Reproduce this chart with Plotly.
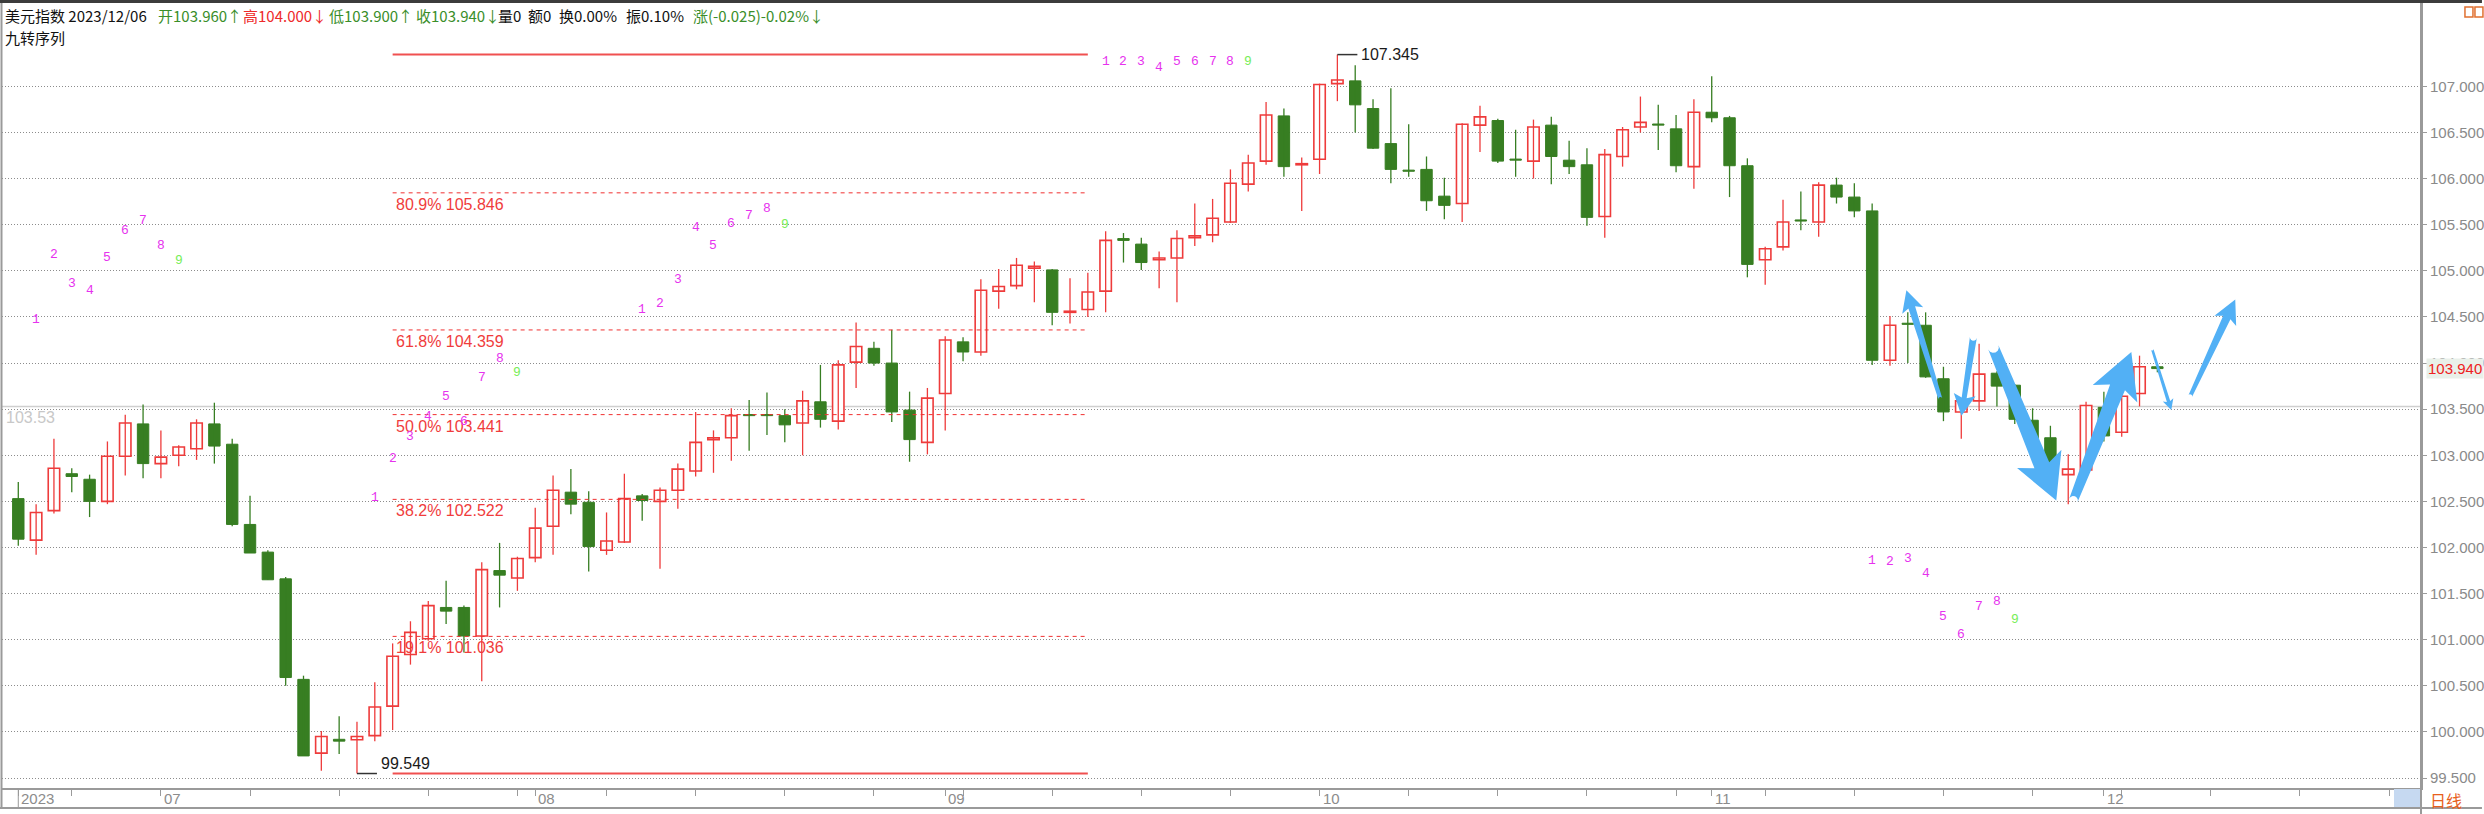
import math
import pandas as pd
import plotly.graph_objects as go

# ---------------- data ----------------
dates = pd.bdate_range("2023-06-21", "2023-12-06")

opens = [102.53, 102.08, 102.40, 102.80, 102.74, 102.50, 102.99, 103.34, 102.91, 103.00,
         103.07, 103.34, 103.12, 102.25, 101.95, 101.66, 100.57, 99.77, 99.92, 99.915,
         99.96, 100.28, 100.84, 101.01, 101.35, 101.35, 101.04, 101.75, 101.67, 101.89,
         102.23, 102.60, 102.49, 101.97, 102.06, 102.56, 102.50, 102.62, 102.83, 103.17,
         103.19, 103.44, 103.44, 103.43, 103.35, 103.58, 103.37, 104.01, 104.16, 104.00,
         103.49, 103.14, 103.67, 104.23, 104.12, 104.78, 104.84, 105.03, 105.01, 104.55,
         104.58, 104.78, 105.35, 105.29, 105.12, 105.14, 105.36, 105.39, 105.53, 105.94,
         106.19, 106.68, 106.15, 106.21, 107.03, 107.06, 106.76, 106.38, 106.09, 106.10,
         105.81, 105.73, 106.58, 106.63, 106.21, 106.19, 106.58, 106.20, 106.15, 105.59,
         106.24, 106.56, 106.59, 106.54, 106.13, 106.72, 106.66, 106.14, 105.12, 105.26,
         105.55, 105.53, 105.93, 105.80, 105.65, 104.03, 104.43, 104.41, 103.83, 103.47,
         103.59, 103.89, 103.76, 103.38, 103.19, 102.79, 102.84, 103.52, 103.25, 103.67,
         103.96]
highs = [102.71, 102.47, 103.18, 102.86, 102.79, 103.15, 103.44, 103.55, 103.27, 103.11,
         103.39, 103.57, 103.18, 102.56, 101.97, 101.68, 100.61, 100.01, 100.17, 100.11,
         100.54, 100.96, 101.20, 101.42, 101.64, 101.37, 101.84, 102.05, 101.90, 102.43,
         102.78, 102.85, 102.61, 102.38, 102.80, 102.58, 102.65, 102.91, 103.47, 103.27,
         103.51, 103.60, 103.68, 103.50, 103.70, 103.98, 104.03, 104.44, 104.23, 104.36,
         103.69, 103.73, 104.29, 104.28, 104.91, 105.02, 105.14, 105.10, 105.02, 104.92,
         104.98, 105.43, 105.41, 105.36, 105.21, 105.44, 105.73, 105.78, 106.10, 106.26,
         106.83, 106.76, 106.23, 107.03, 107.345, 107.23, 106.86, 106.98, 106.59, 106.24,
         106.01, 106.60, 106.79, 106.65, 106.53, 106.64, 106.67, 106.41, 106.33, 106.32,
         106.56, 106.89, 106.80, 106.69, 106.86, 107.11, 106.68, 106.22, 105.26, 105.77,
         105.86, 105.96, 106.01, 105.95, 105.73, 104.51, 104.55, 104.55, 103.96, 103.62,
         104.21, 103.91, 103.77, 103.51, 103.32, 103.01, 103.58, 103.69, 103.70, 104.08,
         104.00]
lows = [102.02, 101.92, 102.37, 102.60, 102.33, 102.47, 102.78, 102.75, 102.75, 102.88,
        102.95, 102.91, 102.23, 101.94, 101.65, 100.50, 99.74, 99.58, 99.76, 99.549,
        99.90, 100.02, 100.73, 100.99, 101.17, 100.86, 100.55, 101.35, 101.53, 101.84,
        101.92, 102.36, 101.74, 101.92, 102.05, 102.29, 101.77, 102.42, 102.77, 102.81,
        102.94, 103.05, 103.22, 103.14, 103.00, 103.30, 103.28, 103.73, 103.97, 103.36,
        102.93, 103.01, 103.27, 104.02, 104.08, 104.59, 104.80, 104.66, 104.41, 104.43,
        104.50, 104.55, 105.09, 105.01, 104.81, 104.66, 105.27, 105.31, 105.52, 105.86,
        106.15, 106.02, 105.65, 106.05, 106.84, 106.50, 106.32, 105.95, 106.02, 105.65,
        105.56, 105.53, 106.29, 106.17, 106.02, 106.00, 105.94, 106.05, 105.49, 105.36,
        106.13, 106.50, 106.31, 106.07, 105.89, 106.61, 105.80, 104.93, 104.85, 105.22,
        105.44, 105.37, 105.73, 105.58, 103.98, 103.97, 104.00, 103.84, 103.37, 103.18,
        103.48, 103.53, 103.34, 103.05, 102.88, 102.47, 102.80, 103.15, 103.20, 103.53,
        103.90]
closes = [102.09, 102.38, 102.86, 102.77, 102.50, 102.99, 103.35, 102.91, 102.98, 103.09,
          103.35, 103.10, 102.25, 101.94, 101.65, 100.59, 99.74, 99.95, 99.90, 99.95,
          100.27, 100.82, 101.08, 101.37, 101.31, 101.04, 101.76, 101.70, 101.88, 102.21,
          102.62, 102.47, 102.01, 102.07, 102.53, 102.51, 102.62, 102.85, 103.14, 103.19,
          103.43, 103.43, 103.43, 103.33, 103.59, 103.39, 103.98, 104.18, 104.00, 103.47,
          103.17, 103.62, 104.25, 104.12, 104.79, 104.83, 105.06, 105.05, 104.55, 104.56,
          104.77, 105.33, 105.33, 105.09, 105.14, 105.35, 105.38, 105.57, 105.95, 106.17,
          106.69, 106.13, 106.16, 107.02, 107.07, 106.80, 106.33, 106.10, 106.08, 105.76,
          105.71, 106.59, 106.67, 106.19, 106.20, 106.56, 106.24, 106.13, 105.58, 106.26,
          106.53, 106.61, 106.58, 106.14, 106.72, 106.66, 106.14, 105.07, 105.24, 105.53,
          105.54, 105.93, 105.80, 105.65, 104.03, 104.41, 104.42, 103.85, 103.47, 103.59,
          103.88, 103.75, 103.39, 103.12, 102.91, 102.85, 103.54, 103.21, 103.64, 103.96,
          103.94]

y_ticks = [99.5, 100.0, 100.5, 101.0, 101.5, 102.0, 102.5, 103.0, 103.5,
           104.0, 104.5, 105.0, 105.5, 106.0, 106.5, 107.0]

fib_pcts = ["80.9%", "61.8%", "50.0%", "38.2%", "19.1%"]
fib_vals = [105.846, 104.359, 103.441, 102.522, 101.036]
fib_x = [21, 60]

ref_level = 103.53
last_price = 103.94

nine_up_starts = [1, 20, 35, 61]
nine_down_starts = [104]

arrow_tails = [(107.83, 103.61), (109.68, 104.28), (110.80, 104.17),
               (115.29, 102.51), (119.71, 104.15), (121.84, 103.64)]
arrow_tips = [(105.92, 104.79), (109.01, 103.43), (114.33, 102.51),
              (118.54, 104.12), (120.78, 103.49), (124.37, 104.69)]
# tail width, shaft width, head width, head length (pixels)
arrow_sizes = [(4, 7, 22, 18), (7, 5, 22, 18), (11, 16, 48, 38),
               (9, 16, 48, 38), (2.5, 3.5, 11, 9), (4, 8, 24, 20)]

title_parts = [("美元指数 2023/12/06", "#111111", 3),
               ("开103.960↑", "#3a8e2a", 156),
               ("高104.000↓", "#ee2a2a", 241),
               ("低103.900↑", "#3a8e2a", 327),
               ("收103.940↓", "#3a8e2a", 414),
               ("量0", "#111111", 496),
               ("额0", "#111111", 526),
               ("换0.00%", "#111111", 557),
               ("振0.10%", "#111111", 625),
               ("涨(-0.025)-0.02%↓", "#3a8e2a", 692)]

# ---------------- geometry ----------------
W, H = 2484, 814
ML, MR, MT, MB = 2, 61, 0, 26
PW = W - ML - MR
PH = H - MT - MB
X0, X1 = -0.914, 134.79
Y0, Y1 = 99.392, 107.937
SX = PW / (X1 - X0)
SY = PH / (Y1 - Y0)


def pxx(px):
    return (px - ML) / PW


def pxy(py):
    return 1 - (py - MT) / PH


RED = "#ee3b3b"
GREEN = "#377e22"
GRID = "#8c8c8c"
AX = "#9a9a9a"
MAG = "#e632ee"
LGREEN = "#78ee58"

n = len(dates)
xs = list(range(n))
up = [k for k in xs if closes[k] >= opens[k]]
dn = [k for k in xs if closes[k] < opens[k]]

fig = go.Figure()

# wicks
for idx, col in ((up, RED), (dn, GREEN)):
    wx, wy = [], []
    for k in idx:
        wx += [k, k, None]
        wy += [lows[k], highs[k], None]
    fig.add_trace(go.Scatter(x=wx, y=wy, mode="lines", line=dict(color=col, width=1.3),
                             hoverinfo="skip", showlegend=False))

# bodies
fig.add_trace(go.Bar(x=up, base=[min(opens[k], closes[k]) for k in up],
                     y=[max(abs(closes[k] - opens[k]), 0.012) for k in up],
                     width=0.64, marker=dict(color="white", line=dict(color=RED, width=1.6)),
                     hoverinfo="skip", showlegend=False))
fig.add_trace(go.Bar(x=dn, base=[min(opens[k], closes[k]) for k in dn],
                     y=[max(abs(closes[k] - opens[k]), 0.012) for k in dn],
                     width=0.64, marker=dict(color=GREEN, line=dict(color=GREEN, width=1)),
                     hoverinfo="skip", showlegend=False))

shapes = []
ann = []

# reference level line
shapes.append(dict(type="line", xref="paper", yref="y", x0=0, x1=1, y0=ref_level, y1=ref_level,
                   line=dict(color="#cfcfcf", width=1.5), layer="below"))
ann.append(dict(text=f"{ref_level:.2f}", xref="paper", yref="y", x=pxx(4), y=ref_level,
                xanchor="left", yanchor="top", showarrow=False, yshift=-1,
                font=dict(family="Liberation Sans", size=16, color="#c8c8c8")))

# fibonacci lines
hi_k = max(xs, key=lambda k: highs[k])
lo_k = min(xs, key=lambda k: lows[k])
for yv in (highs[hi_k], lows[lo_k]):
    shapes.append(dict(type="line", xref="x", yref="y", x0=fib_x[0], x1=fib_x[1], y0=yv, y1=yv,
                       line=dict(color="#f05050", width=2)))
for pct, v in zip(fib_pcts, fib_vals):
    shapes.append(dict(type="line", xref="x", yref="y", x0=fib_x[0], x1=fib_x[1], y0=v, y1=v,
                       line=dict(color="#f03030", width=1, dash="4px,4px")))
    ann.append(dict(text=f"{pct} {v:.3f}", xref="x", yref="y", x=fib_x[0] + 0.1, y=v,
                    xanchor="left", yanchor="top", showarrow=False, yshift=-1,
                    font=dict(family="Liberation Sans", size=16, color="#f03c3c")))

# high / low markers
for k, v, ya in ((hi_k, highs[hi_k], "middle"), (lo_k, lows[lo_k], "bottom")):
    shapes.append(dict(type="line", xref="x", yref="y", x0=k, x1=k + 20 / SX, y0=v, y1=v,
                       line=dict(color="#333333", width=1.5)))
    ann.append(dict(text=f"{v:.3f}", xref="x", yref="y", x=k + 22 / SX, y=v,
                    xanchor="left", yanchor=ya, showarrow=False,
                    font=dict(family="Liberation Sans", size=16, color="#1a1a1a")))

# nine-turn sequence labels
for s in nine_up_starts:
    for i in range(9):
        k = s + i
        ann.append(dict(text=str(i + 1), xref="x", yref="y", x=k, y=min(highs[k] + 2.0, 107.27),
                        showarrow=False, xanchor="center", yanchor="middle",
                        font=dict(family="Liberation Mono", size=13, color=LGREEN if i == 8 else MAG)))
for s in nine_down_starts:
    for i in range(9):
        k = s + i
        ann.append(dict(text=str(i + 1), xref="x", yref="y", x=k, y=lows[k] - 2.12,
                        showarrow=False, xanchor="center", yanchor="middle",
                        font=dict(family="Liberation Mono", size=13, color=LGREEN if i == 8 else MAG)))


# blue arrows
def arrow_path(t, p, wt, ws, wh, lh):
    tx, ty = (t[0] - X0) * SX, (Y1 - t[1]) * SY
    qx, qy = (p[0] - X0) * SX, (Y1 - p[1]) * SY
    L = math.hypot(qx - tx, qy - ty)
    ux, uy = (qx - tx) / L, (qy - ty) / L
    nx, ny = -uy, ux
    bx, by = qx - ux * lh, qy - uy * lh
    bk = 0.18 * lh
    pts = []
    for j in range(7):
        th = math.pi * j / 6
        cx = nx * math.cos(th) - ux * math.sin(th)
        cy = ny * math.cos(th) - uy * math.sin(th)
        pts.append((tx - cx * wt / 2, ty - cy * wt / 2))
    pts = pts[::-1]
    pts = [(tx + nx * wt / 2, ty + ny * wt / 2)] + pts[1:-1] + [(tx - nx * wt / 2, ty - ny * wt / 2)]
    # pts goes from +n side around back to -n side; build polygon
    poly = [(tx - nx * wt / 2, ty - ny * wt / 2)]
    poly = pts[::-1]
    poly += [(bx + nx * ws / 2, by + ny * ws / 2),
             (bx + nx * wh / 2 - ux * bk, by + ny * wh / 2 - uy * bk),
             (qx, qy),
             (bx - nx * wh / 2 - ux * bk, by - ny * wh / 2 - uy * bk),
             (bx - nx * ws / 2, by - ny * ws / 2)]
    d = ""
    for j, (px_, py_) in enumerate(poly):
        xd = X0 + px_ / SX
        yd = Y1 - py_ / SY
        d += ("M" if j == 0 else "L") + f"{xd:.4f},{yd:.4f} "
    return d + "Z"


for t, p, sz in zip(arrow_tails, arrow_tips, arrow_sizes):
    shapes.append(dict(type="path", xref="x", yref="y", path=arrow_path(t, p, *sz),
                       fillcolor="#52b0f5", line=dict(width=0), layer="above"))

# x-axis labels and ticks
month_idx = [0] + [k for k in range(1, n) if dates[k].month != dates[k - 1].month]
month_txt = [str(dates[0].year)] + [f"{dates[k].month:02d}" for k in month_idx[1:]]
minor_ticks = list(range(3, 135, 5))
tickvals = sorted(set(minor_ticks + month_idx))
for k, tx in zip(month_idx, month_txt):
    ann.append(dict(text=tx, xref="x", yref="paper", x=k, y=pxy(798), xanchor="left",
                    yanchor="middle", showarrow=False, xshift=1,
                    font=dict(family="Liberation Sans", size=15, color="#8c8c8c")))
shapes.append(dict(type="line", xref="x", yref="paper", x0=0, x1=0, y0=pxy(788), y1=pxy(808),
                   line=dict(color=AX, width=1)))

# last price label
ann.append(dict(text=f"{last_price:.3f}", xref="paper", yref="y", x=pxx(2428), y=last_price,
                xanchor="left", yanchor="middle", showarrow=False, bgcolor="#e9f0e9",
                borderpad=1, font=dict(family="Liberation Sans", size=15, color="#ee2222")))

# title lines
for txt, col, x in title_parts:
    ann.append(dict(text=txt, xref="paper", yref="paper", x=pxx(x), y=pxy(15), xanchor="left",
                    yanchor="middle", showarrow=False,
                    font=dict(family="Noto Sans CJK SC", size=15, color=col)))
ann.append(dict(text="九转序列", xref="paper", yref="paper", x=pxx(3), y=pxy(38), xanchor="left",
                yanchor="middle", showarrow=False,
                font=dict(family="Noto Sans CJK SC", size=15, color="#111111")))

# bottom-right label
shapes.append(dict(type="rect", xref="paper", yref="paper", x0=pxx(2396), x1=pxx(2423),
                   y0=pxy(808), y1=pxy(789), fillcolor="#c6d9f1", line=dict(width=0)))
ann.append(dict(text="日线", xref="paper", yref="paper", x=pxx(2430), y=pxy(800), xanchor="left",
                yanchor="middle", showarrow=False,
                font=dict(family="Noto Sans CJK SC", size=16, color="#e8601c")))

# frame elements
shapes += [
    dict(type="rect", xref="paper", yref="paper", x0=pxx(0), x1=pxx(W), y0=pxy(0), y1=pxy(3),
         fillcolor="#3c3c3c", line=dict(width=0)),
    dict(type="line", xref="paper", yref="paper", x0=pxx(1.5), x1=pxx(1.5), y0=pxy(3), y1=pxy(808),
         line=dict(color=AX, width=2)),
    dict(type="line", xref="paper", yref="paper", x0=pxx(2423), x1=pxx(2423), y0=pxy(3), y1=pxy(814),
         line=dict(color=AX, width=2)),
    dict(type="line", xref="paper", yref="paper", x0=pxx(0), x1=pxx(W), y0=pxy(808), y1=pxy(808),
         line=dict(color=AX, width=2)),
    dict(type="rect", xref="paper", yref="paper", x0=pxx(2467), x1=pxx(2475), y0=pxy(17), y1=pxy(7),
         line=dict(color="#e07030", width=1.5)),
    dict(type="rect", xref="paper", yref="paper", x0=pxx(2477), x1=pxx(2485), y0=pxy(17), y1=pxy(7),
         line=dict(color="#e07030", width=1.5)),
]

fig.update_layout(
    width=W, height=H,
    margin=dict(l=ML, r=MR, t=MT, b=MB, pad=0),
    paper_bgcolor="white", plot_bgcolor="white",
    barmode="overlay", showlegend=False,
    shapes=shapes, annotations=ann,
    xaxis=dict(range=[X0, X1], showgrid=False, zeroline=False, showline=True,
               linecolor=AX, linewidth=2, ticks="outside", ticklen=6, tickcolor=AX,
               tickwidth=1, tickvals=tickvals, showticklabels=False, fixedrange=True),
    yaxis=dict(range=[Y0, Y1], side="right", showgrid=True, gridcolor=GRID, gridwidth=1,
               griddash="1px,2px", zeroline=False, showline=True, linecolor=AX, linewidth=2,
               ticks="outside", ticklen=4, tickcolor=AX, tickvals=y_ticks,
               ticktext=[f"{v:.3f}" for v in y_ticks],
               tickfont=dict(family="Liberation Sans", size=15, color="#8a8a8a"),
               fixedrange=True),
)

fig.write_html("out.html", config={"displayModeBar": False},
               post_script="document.body.style.margin='0px';")
